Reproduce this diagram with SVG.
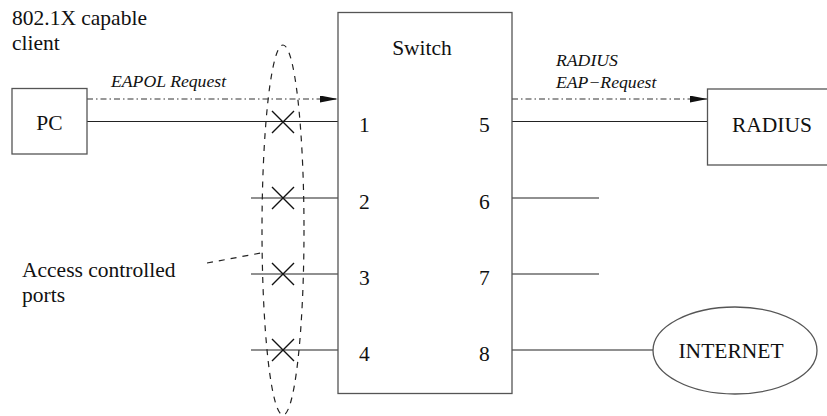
<svg xmlns="http://www.w3.org/2000/svg" width="827" height="416" viewBox="0 0 827 416" font-family="'Liberation Serif', 'Times New Roman', Tinos, 'DejaVu Serif', serif">
<defs>
<style>
text{font-family:'Liberation Serif','Times New Roman',Tinos,'DejaVu Serif',serif;fill:#111}
.t{font-size:21.5px}
.i{font-size:17.7px;font-style:italic}
.box{fill:#fff;stroke:#555;stroke-width:1.3}
.ln{stroke:#222;stroke-width:1.2;fill:none}
.dd{stroke:#333;stroke-width:1.2;fill:none;stroke-dasharray:6 3 1.5 3}
.dot{stroke:#333;stroke-width:1.2;fill:none;stroke-dasharray:1.5 5.5}
.dash{stroke:#222;stroke-width:1.2;fill:none;stroke-dasharray:6 6}
.x{stroke:#111;stroke-width:1.4}
</style>
<marker id="ah" viewBox="0 0 18 7" refX="18" refY="3.5" markerWidth="18" markerHeight="7" markerUnits="userSpaceOnUse" orient="auto">
<path d="M0,0 L18,3.5 L0,7 Z" fill="#111"/>
</marker>
</defs>
<text class="t" x="12" y="25">802.1X capable</text>
<text class="t" x="12" y="50">client</text>
<g id="connectors">
<line class="ln" x1="87" y1="121.5" x2="338" y2="121.5"/>
<line class="ln" x1="251" y1="198" x2="338" y2="198"/>
<line class="ln" x1="251" y1="274" x2="338" y2="274"/>
<line class="ln" x1="251" y1="350" x2="338" y2="350"/>
<line class="ln" x1="512" y1="121.5" x2="707.5" y2="121.5"/>
<line class="ln" x1="512" y1="198" x2="599" y2="198"/>
<line class="ln" x1="512" y1="274" x2="599" y2="274"/>
<line class="ln" x1="512" y1="350" x2="653" y2="350"/>
<line class="dd" x1="87" y1="99" x2="338" y2="99" marker-end="url(#ah)"/>
<line class="dot" x1="340" y1="99" x2="512" y2="99"/>
<line class="dd" x1="512" y1="99" x2="707.5" y2="99" marker-end="url(#ah)"/>
<text class="i" x="111" y="87">EAPOL Request</text>
<text class="i" x="556" y="66">RADIUS</text>
<text class="i" x="556" y="88">EAP−Request</text>
</g>
<g id="pc">
<rect class="box" x="12" y="88.5" width="75" height="65.5"/>
<text class="t" x="49.5" y="130" text-anchor="middle">PC</text>
</g>
<g id="switch">
<rect class="box" x="338" y="12.5" width="174" height="381"/>
<text class="t" x="422" y="55" text-anchor="middle">Switch</text>
<text class="t" x="359" y="132">1</text>
<text class="t" x="359" y="209">2</text>
<text class="t" x="359" y="285">3</text>
<text class="t" x="359" y="361">4</text>
<text class="t" x="479" y="132">5</text>
<text class="t" x="479" y="209">6</text>
<text class="t" x="479" y="285">7</text>
<text class="t" x="479" y="361">8</text>
</g>
<g id="radius">
<rect class="box" x="707.5" y="89" width="130" height="76"/>
<text class="t" x="772" y="132" text-anchor="middle">RADIUS</text>
</g>
<g id="internet">
<ellipse class="box" cx="735" cy="350.5" rx="82" ry="43.5"/>
<text class="t" x="731" y="357.5" text-anchor="middle">INTERNET</text>
</g>
<g id="access-controlled-ports">
<ellipse class="dash" cx="283" cy="230" rx="21" ry="185"/>
<line class="dash" x1="207" y1="263" x2="261" y2="253"/>
<path class="x" d="M272,111 L294,133 M294,111 L272,133 M272,187 L294,209 M294,187 L272,209 M272,263 L294,285 M294,263 L272,285 M272,339 L294,361 M294,339 L272,361"/>
<text class="t" x="22" y="277">Access controlled</text>
<text class="t" x="22" y="302">ports</text>
</g>
</svg>
